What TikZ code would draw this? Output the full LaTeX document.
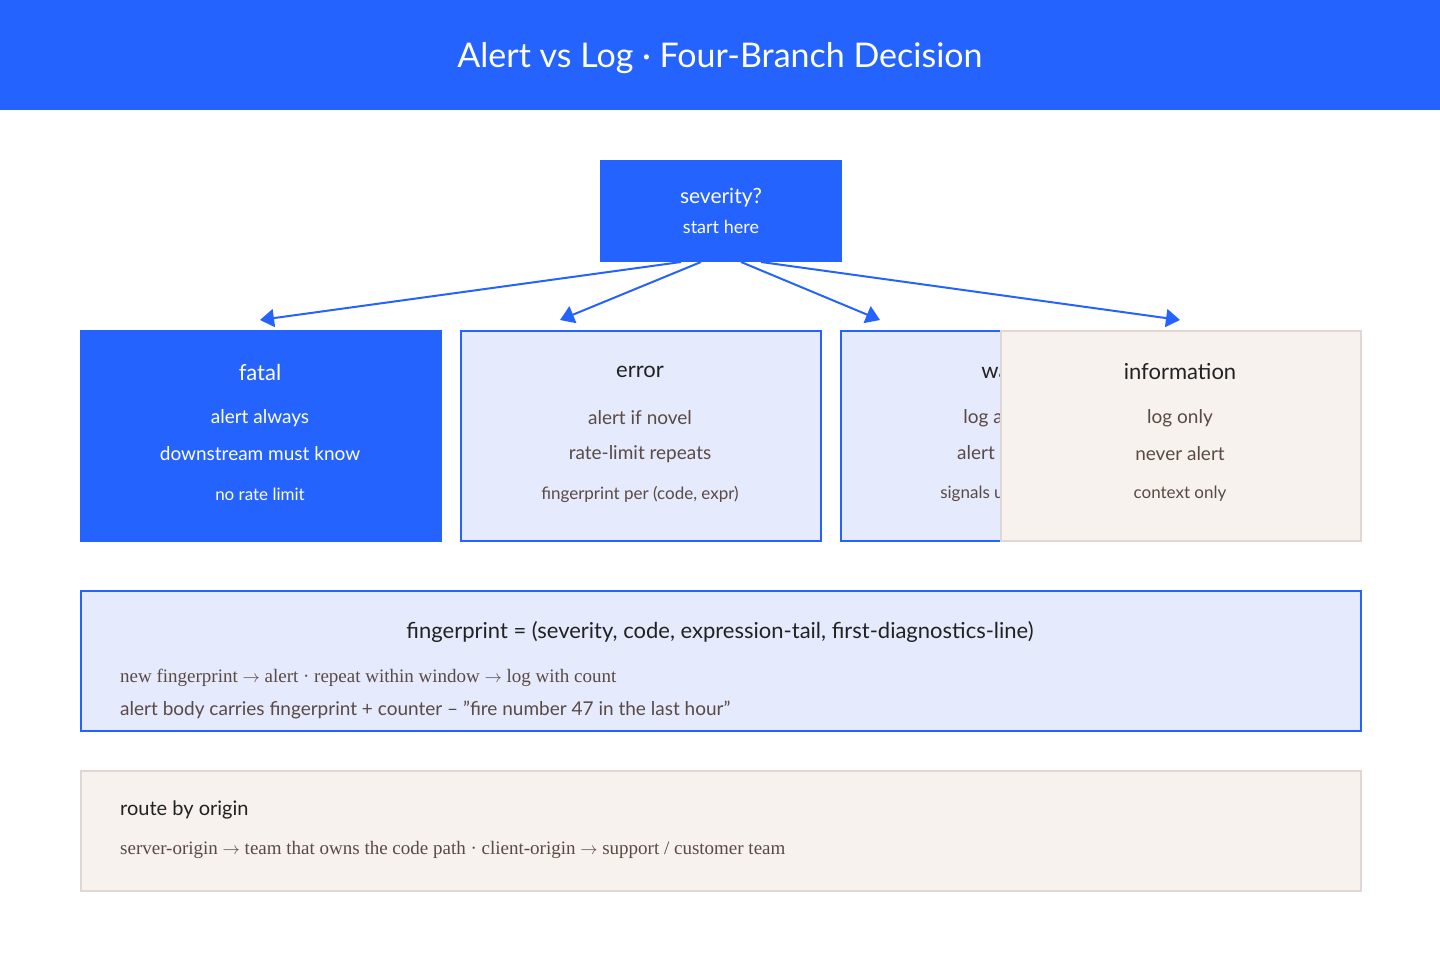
\documentclass[tikz,border=0pt]{standalone}
\usepackage{fontspec}
\setmainfont{Lato}
\newfontfamily\notefont{Liberation Serif}
\usetikzlibrary{arrows.meta,positioning}
\definecolor{brandblue}{HTML}{2563FF}
\definecolor{paleblue}{HTML}{E5EAFD}
\definecolor{sand}{HTML}{F7F2EE}
\definecolor{sandline}{HTML}{E0D6D3}
\definecolor{ink}{HTML}{222222}
\definecolor{mute}{HTML}{5A4A45}
\tikzset{
  box/.style={draw, line width=2pt, minimum width=#1, anchor=north west, inner sep=0pt},
  card/.style={box=360pt, minimum height=210pt},
  solidcard/.style={card, fill=brandblue, draw=brandblue},
  palecard/.style={card, fill=paleblue, draw=brandblue},
  sandcard/.style={card, fill=sand, draw=sandline, line width=1.5pt},
  branch/.style={draw=brandblue, line width=2pt, -{Triangle[length=14pt,width=18pt]}},
}
\begin{document}
\begin{tikzpicture}[x=1pt,y=-1pt]
\useasboundingbox (0,0) rectangle (1440,960);
\fill[white] (0,0) rectangle (1440,960);
% header
\fill[brandblue] (0,0) rectangle (1440,110);
\node[text=white, font=\fontsize{34}{40}\selectfont] (title) at (720,58) {Alert vs Log {\textperiodcentered} Four-Branch Decision};
% root
\node[box=240pt, minimum height=100pt, fill=brandblue, draw=brandblue, text=white, align=center,
  font=\fontsize{21}{34}\selectfont] (root) at (600,160)
  {severity?\\[-4pt]{\fontsize{18}{24}\selectfont start here}};
% branches
\node[solidcard] (fatal) at (80,330) {};
\node[palecard] (error) at (460,330) {};
\node[palecard] (warn) at (840,330) {};
\foreach \x/\hc/\bc/\t/\a/\b/\c in {260/white/white/fatal/alert always/downstream must know/no rate limit,
  640/ink/mute/error/alert if novel/rate-limit repeats/{fingerprint per (code, expr)},
  1020/ink/mute/warning/log and count/alert on a spike/signals upstream drift}{
  \node[text=\hc, font=\fontsize{22}{26}\selectfont] at (\x,372) {\t};
  \node[text=\bc, font=\fontsize{19}{22}\selectfont] at (\x,418) {\a};
  \node[text=\bc, font=\fontsize{19}{22}\selectfont] at (\x,454) {\b};
  \node[text=\bc, font=\fontsize{17}{20}\selectfont] at (\x,494) {\c};
}
\node[sandcard] (info) at (1000,330) {};
\node[text=ink, font=\fontsize{22}{26}\selectfont] at (1180,372) {information};
\node[text=mute, font=\fontsize{19}{22}\selectfont] at (1180,418) {log only};
\node[text=mute, font=\fontsize{19}{22}\selectfont] at (1180,454) {never alert};
\node[text=mute, font=\fontsize{17}{20}\selectfont] at (1180,494) {context only};
% connectors
\coordinate (f) at (260,320);
\coordinate (e) at (560,320);
\coordinate (w) at (880,320);
\coordinate (i) at (1180,320);
\draw[branch] ([xshift=-40pt]root.south) -- (f);
\draw[branch] ([xshift=-20pt]root.south) -- (e);
\draw[branch] ([xshift=20pt]root.south) -- (w);
\draw[branch] ([xshift=40pt]root.south) -- (i);
% fingerprint
\node[box=1280pt, minimum height=140pt, fill=paleblue, draw=brandblue] (fp) at (80,590) {};
\node[text=ink, font=\fontsize{22}{26}\selectfont] at (720,632) {fingerprint = (severity, code, expression-tail, first-diagnostics-line)};
\node[anchor=west, text=mute, font=\notefont\fontsize{19}{22}\selectfont, inner sep=0pt] at (120,678)
  {new fingerprint $\rightarrow$ alert {\textperiodcentered} repeat within window $\rightarrow$ log with count};
\node[anchor=west, text=mute, font=\fontsize{19}{22}\selectfont, inner sep=0pt] at (120,710)
  {alert body carries fingerprint + counter -- "fire number 47 in the last hour"};
% routing
\node[box=1280pt, minimum height=120pt, fill=sand, draw=sandline, line width=1.5pt] (route) at (80,770) {};
\node[anchor=west, text=ink, font=\fontsize{20}{24}\selectfont, inner sep=0pt] at (120,810) {route by origin};
\node[anchor=west, text=mute, font=\notefont\fontsize{19}{22}\selectfont, inner sep=0pt] at (120,850)
  {server-origin $\rightarrow$ team that owns the code path {\textperiodcentered} client-origin $\rightarrow$ support / customer team};
\end{tikzpicture}
\end{document}
